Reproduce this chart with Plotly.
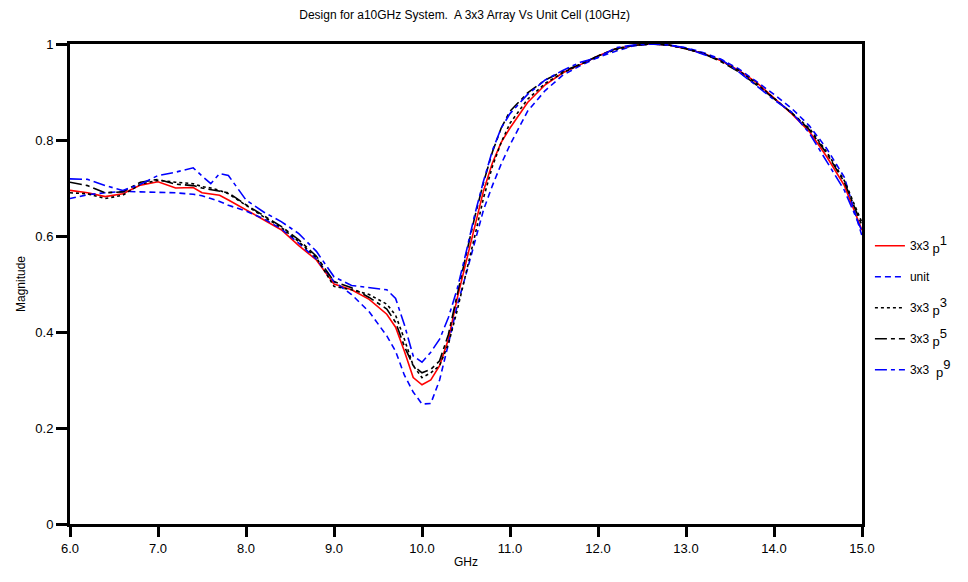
import plotly.graph_objects as go

freq = [6.0, 6.2, 6.4, 6.6, 6.8, 7.0, 7.2, 7.4, 7.5, 7.6, 7.7, 7.8, 8.0, 8.2, 8.4, 8.6, 8.8,
        9.0, 9.2, 9.4, 9.6, 9.7, 9.8, 9.9, 10.0, 10.1, 10.2, 10.3, 10.4, 10.5, 10.6, 10.7,
        10.8, 10.9, 11.0, 11.2, 11.4, 11.6, 11.8, 12.0, 12.2, 12.4, 12.6, 12.8, 13.0, 13.2,
        13.4, 13.6, 13.8, 14.0, 14.2, 14.4, 14.6, 14.8, 15.0]

p1 = [0.695, 0.690, 0.682, 0.688, 0.706, 0.713, 0.700, 0.701, 0.690, 0.687, 0.685, 0.675,
      0.655, 0.634, 0.613, 0.580, 0.550, 0.500, 0.488, 0.468, 0.437, 0.410, 0.360, 0.305,
      0.290, 0.300, 0.330, 0.385, 0.470, 0.545, 0.620, 0.695, 0.752, 0.795, 0.825, 0.878,
      0.915, 0.940, 0.957, 0.975, 0.990, 0.997, 1.000, 0.998, 0.990, 0.980, 0.965, 0.945,
      0.920, 0.888, 0.855, 0.818, 0.765, 0.705, 0.612]

unit = [0.678, 0.686, 0.690, 0.693, 0.692, 0.691, 0.690, 0.687, 0.684, 0.678, 0.672, 0.664,
        0.652, 0.636, 0.615, 0.585, 0.552, 0.505, 0.478, 0.442, 0.392, 0.360, 0.310, 0.275,
        0.250, 0.251, 0.300, 0.375, 0.455, 0.520, 0.585, 0.655, 0.705, 0.750, 0.790, 0.860,
        0.903, 0.935, 0.955, 0.972, 0.985, 0.996, 1.000, 0.998, 0.992, 0.982, 0.968, 0.948,
        0.922, 0.895, 0.866, 0.830, 0.782, 0.722, 0.600]

p3 = [0.690, 0.688, 0.678, 0.685, 0.708, 0.716, 0.712, 0.709, 0.703, 0.700, 0.695, 0.688,
      0.664, 0.640, 0.618, 0.588, 0.555, 0.495, 0.488, 0.478, 0.458, 0.435, 0.385, 0.330,
      0.305, 0.315, 0.330, 0.375, 0.445, 0.520, 0.600, 0.680, 0.745, 0.795, 0.835, 0.885,
      0.918, 0.940, 0.958, 0.975, 0.988, 0.997, 1.000, 0.998, 0.990, 0.980, 0.965, 0.945,
      0.918, 0.887, 0.858, 0.825, 0.775, 0.715, 0.628]

p5 = [0.712, 0.705, 0.690, 0.692, 0.712, 0.718, 0.708, 0.705, 0.700, 0.697, 0.694, 0.690,
      0.665, 0.642, 0.620, 0.592, 0.558, 0.505, 0.492, 0.472, 0.448, 0.420, 0.370, 0.330,
      0.315, 0.322, 0.340, 0.395, 0.480, 0.560, 0.640, 0.712, 0.775, 0.825, 0.860, 0.898,
      0.925, 0.943, 0.958, 0.975, 0.990, 0.997, 1.000, 0.998, 0.990, 0.980, 0.963, 0.942,
      0.915, 0.885, 0.857, 0.822, 0.772, 0.712, 0.622]

p9 = [0.719, 0.718, 0.705, 0.695, 0.708, 0.726, 0.733, 0.742, 0.725, 0.709, 0.730, 0.726,
      0.675, 0.650, 0.630, 0.605, 0.568, 0.515, 0.497, 0.493, 0.488, 0.470, 0.415, 0.350,
      0.337, 0.358, 0.385, 0.430, 0.490, 0.565, 0.645, 0.715, 0.778, 0.825, 0.855, 0.895,
      0.925, 0.945, 0.962, 0.972, 0.992, 0.998, 1.000, 0.998, 0.992, 0.978, 0.968, 0.942,
      0.912, 0.884, 0.858, 0.815, 0.755, 0.695, 0.610]

x_ticks = [6.0, 7.0, 8.0, 9.0, 10.0, 11.0, 12.0, 13.0, 14.0, 15.0]
y_ticks = [0, 0.2, 0.4, 0.6, 0.8, 1]


def arr_label(sp, n):
    return (f"3x3{sp}<sub><span style='font-size:13px'>p</span></sub>"
            f"<sup><span style='font-size:13px'>{n}</span></sup>")


series = [
    (arr_label(" ", 1), p1, "#ff0000", "solid"),
    ("unit", unit, "#0000ff", "6px,4px"),
    (arr_label(" ", 3), p3, "#000000", "3px,3px"),
    (arr_label(" ", 5), p5, "#000000", "12px,4px,4px,4px"),
    (arr_label("  ", 9), p9, "#0000ff", "12px,4px,4px,4px"),
]

fig = go.Figure()
for i, (name, vals, color, dash) in enumerate(series):
    fig.add_trace(go.Scatter(x=freq, y=vals, mode="lines", name=name,
                             legendgroup=f"g{i}",
                             line=dict(color=color, width=1.6, dash=dash)))

font = "Liberation Sans, Arial, sans-serif"
fig.update_layout(
    width=968, height=582,
    margin=dict(l=70, r=101, t=44, b=58),
    paper_bgcolor="white", plot_bgcolor="white",
    font=dict(family=font, size=12, color="black"),
    title=dict(text="Design for a10GHz System.  A 3x3 Array Vs Unit Cell (10GHz)",
               x=0.48, xanchor="center", y=0.975, yanchor="middle",
               font=dict(size=12)),
    showlegend=True,
    legend=dict(x=1.01, xanchor="left", y=0.61, yanchor="top",
                font=dict(size=12), itemwidth=30, tracegroupgap=12,
                bgcolor="rgba(0,0,0,0)"),
)
fig.update_xaxes(range=[6.0, 15.0], tickvals=x_ticks,
                 ticktext=[f"{v:.1f}" for v in x_ticks],
                 showline=True, linewidth=3, linecolor="black", mirror=True,
                 ticks="outside", ticklen=10, tickwidth=3, tickcolor="black",
                 showgrid=False, zeroline=False,
                 tickfont=dict(size=13),
                 title=dict(text="GHz", font=dict(size=12), standoff=4))
fig.update_yaxes(range=[0, 1], tickvals=y_ticks,
                 ticktext=["0", "0.2", "0.4", "0.6", "0.8", "1"],
                 showline=True, linewidth=3, linecolor="black", mirror=True,
                 ticks="outside", ticklen=11, tickwidth=3, tickcolor="black",
                 showgrid=False, zeroline=False,
                 tickfont=dict(size=13),
                 title=dict(text="Magnitude", font=dict(size=12), standoff=8))

fig.write_html("out.html")
